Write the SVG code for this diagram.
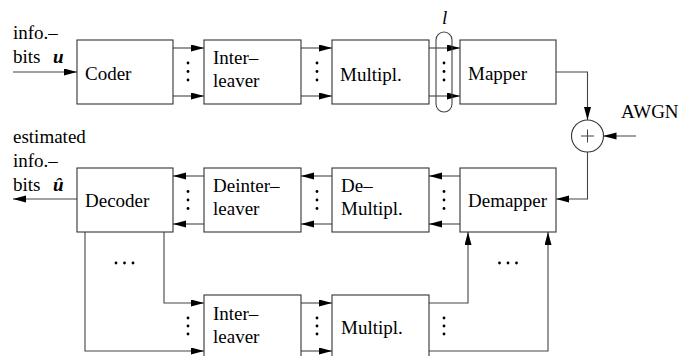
<svg xmlns="http://www.w3.org/2000/svg" width="693" height="356" viewBox="0 0 693 356">
<defs>
<marker id="ah" markerUnits="userSpaceOnUse" markerWidth="13" markerHeight="8" refX="13" refY="3.5" orient="auto">
<path d="M0,0 L13,3.5 L0,7 z" fill="#000"/>
</marker>
<style>
.box{fill:#fff;stroke:#333;stroke-width:1.1}
.ln{fill:none;stroke:#444;stroke-width:1.1}
.ar{fill:none;stroke:#444;stroke-width:1.1;marker-end:url(#ah)}
text{font-family:"Liberation Serif","Times New Roman",serif;font-size:19px;fill:#000}
.bi{font-weight:bold;font-style:italic}
.dot{fill:#000}
</style>
</defs>
<rect width="693" height="356" fill="#fff"/>

<g id="labels">
<text x="13" y="39">info.–</text>
<text x="13" y="63">bits</text>
<text x="53" y="63" class="bi">u</text>
<text x="13" y="143">estimated</text>
<text x="13" y="167">info.–</text>
<text x="13" y="191">bits</text>
<text x="53" y="191" class="bi">û</text>
<text x="621" y="118">AWGN</text>
<text x="442" y="24" font-style="italic">l</text>
</g>

<g id="connectors">
<path class="ar" d="M13,72 H77"/>
<path class="ar" d="M173,48 H204"/>
<path class="ar" d="M173,96 H204"/>
<path class="ar" d="M301,48 H332"/>
<path class="ar" d="M301,96 H332"/>
<path class="ar" d="M429,48 H460"/>
<path class="ar" d="M429,96 H460"/>
<path class="ar" d="M556,72 H587.5 V120"/>
<path class="ar" d="M636,136 H603.5"/>
<path class="ar" d="M587.5,152 V199 H556"/>
<path class="ar" d="M460,176 H429"/>
<path class="ar" d="M460,224 H429"/>
<path class="ar" d="M332,176 H301"/>
<path class="ar" d="M332,224 H301"/>
<path class="ar" d="M204,176 H173"/>
<path class="ar" d="M204,224 H173"/>
<path class="ar" d="M77,199 H13"/>
<path class="ar" d="M164,232 V303 H204"/>
<path class="ar" d="M85,232 V351 H204"/>
<path class="ar" d="M301,303 H332"/>
<path class="ar" d="M301,351 H332"/>
<path class="ar" d="M429,303 H468 V232"/>
<path class="ar" d="M429,351 H548 V232"/>
<rect x="436" y="32" width="16" height="80" rx="8" ry="8" class="ln"/>
<g class="dot">
<circle cx="188" cy="63" r="1.4"/><circle cx="188" cy="71.5" r="1.4"/><circle cx="188" cy="80" r="1.4"/>
<circle cx="317" cy="63" r="1.4"/><circle cx="317" cy="71.5" r="1.4"/><circle cx="317" cy="80" r="1.4"/>
<circle cx="444" cy="63" r="1.4"/><circle cx="444" cy="71.5" r="1.4"/><circle cx="444" cy="80" r="1.4"/>
<circle cx="188" cy="191.5" r="1.4"/><circle cx="188" cy="200" r="1.4"/><circle cx="188" cy="208.5" r="1.4"/>
<circle cx="317" cy="191.5" r="1.4"/><circle cx="317" cy="200" r="1.4"/><circle cx="317" cy="208.5" r="1.4"/>
<circle cx="444" cy="191.5" r="1.4"/><circle cx="444" cy="200" r="1.4"/><circle cx="444" cy="208.5" r="1.4"/>
<circle cx="188" cy="318" r="1.4"/><circle cx="188" cy="326" r="1.4"/><circle cx="188" cy="334" r="1.4"/>
<circle cx="317" cy="318" r="1.4"/><circle cx="317" cy="326" r="1.4"/><circle cx="317" cy="334" r="1.4"/>
<circle cx="444" cy="318" r="1.4"/><circle cx="444" cy="326" r="1.4"/><circle cx="444" cy="334" r="1.4"/>
<circle cx="116" cy="263" r="1.4"/><circle cx="124.5" cy="263" r="1.4"/><circle cx="133" cy="263" r="1.4"/>
<circle cx="499.5" cy="263" r="1.4"/><circle cx="508" cy="263" r="1.4"/><circle cx="516.5" cy="263" r="1.4"/>
</g>
</g>

<g id="coder"><rect class="box" x="77" y="40" width="96" height="64"/><text x="85" y="80">Coder</text></g>
<g id="interleaver"><rect class="box" x="204" y="40" width="97" height="64"/><text x="213" y="64">Inter–</text><text x="213" y="87">leaver</text></g>
<g id="multipl"><rect class="box" x="332" y="40" width="97" height="64"/><text x="340" y="81">Multipl.</text></g>
<g id="mapper"><rect class="box" x="460" y="40" width="96" height="64"/><text x="468" y="80">Mapper</text></g>
<g id="adder"><circle cx="587.5" cy="136" r="16" fill="#fff" stroke="#333" stroke-width="1.1"/><path d="M581,136 H594 M587.5,129.5 V142.5" stroke="#444" stroke-width="1" fill="none"/></g>
<g id="decoder"><rect class="box" x="77" y="168" width="96" height="64"/><text x="85" y="207">Decoder</text></g>
<g id="deinterleaver"><rect class="box" x="204" y="168" width="97" height="64"/><text x="213" y="192">Deinter–</text><text x="213" y="215">leaver</text></g>
<g id="demultipl"><rect class="box" x="332" y="168" width="97" height="64"/><text x="341" y="192">De–</text><text x="341" y="215">Multipl.</text></g>
<g id="demapper"><rect class="box" x="460" y="168" width="96" height="64"/><text x="468" y="207">Demapper</text></g>
<g id="interleaver2"><rect class="box" x="204" y="295" width="97" height="64"/><text x="213" y="320">Inter–</text><text x="213" y="343">leaver</text></g>
<g id="multipl2"><rect class="box" x="332" y="295" width="97" height="64"/><text x="341" y="334">Multipl.</text></g>
</svg>
